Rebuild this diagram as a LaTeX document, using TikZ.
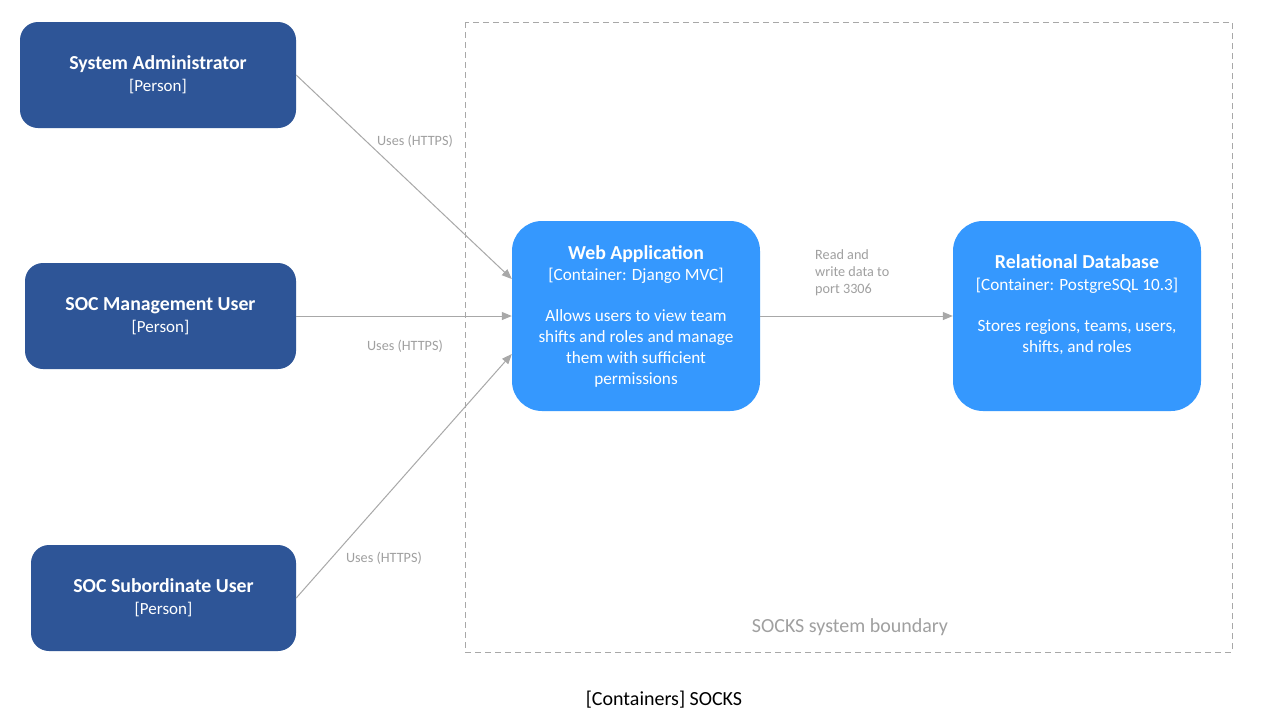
\documentclass[tikz,border=0pt]{standalone}
\usepackage{fontspec}
\setmainfont{Carlito}
\usetikzlibrary{arrows.meta,calc}
\definecolor{person}{HTML}{2E5597}
\definecolor{container}{HTML}{3598FE}
\definecolor{lineg}{HTML}{A8A8A8}
\definecolor{textg}{HTML}{A0A0A0}
\newcommand{\ttl}[1]{{\fontsize{19.8}{22}\selectfont\bfseries #1}}
\begin{document}
\begin{tikzpicture}[x=1pt,y=1pt,
  personbox/.style={fill=person,rounded corners=18pt,text=white,align=center,inner sep=0pt,
     minimum height=106pt,font=\fontsize{17}{22}\selectfont},
  contbox/.style={fill=container,rounded corners=30pt,text=white,align=center,inner sep=0pt,
     minimum width=248pt,minimum height=190pt,font=\fontsize{17.2}{20.8}\selectfont},
  conn/.style={draw=lineg,line width=1pt,-{Triangle[length=10pt,width=8pt]}},
  connlabel/.style={text=textg,font=\fontsize{14.2}{17}\selectfont,inner sep=0pt},
]
\useasboundingbox (0,0) rectangle (1282,-726);
\fill[white] (0,0) rectangle (1282,-726);
% boundary
\draw[draw=lineg,line width=0.8pt,dash pattern=on 6pt off 4pt] (465,-22) rectangle (1232,-652);
\node[text=textg,font=\fontsize{20}{24}\selectfont,inner sep=0pt] (blabel) at (850,-627) {SOCKS system boundary};
% persons
\node[personbox,minimum width=276pt] (admin) at (158,-75)
  {\ttl{System Administrator}\\[0pt]{[Person]}};
\node[personbox,minimum width=271pt] (mgmt) at (160.5,-316)
  {\ttl{SOC Management User}\\[0pt]{[Person]}};
\node[personbox,minimum width=265pt] (sub) at (163.5,-598)
  {\ttl{SOC Subordinate User}\\[0pt]{[Person]}};
% containers
\node[contbox] (web) at (636,-316)
  {\ttl{Web Application}\\[1pt]
   {[Container: Django MVC]}\\[20pt]
   Allows users to view team\\
   shifts and roles and manage\\
   them with sufficient\\
   permissions};
\node[contbox] (db) at (1077,-316)
  {\ttl{Relational Database}\\[1pt]
   {[Container: PostgreSQL 10.3]}\\[20pt]
   Stores regions, teams, users,\\
   shifts, and roles\\[4pt]\mbox{}};
% connectors
\draw[conn] (admin.east) -- ($(web.west)+(0,37)$);
\draw[conn] (mgmt.east) -- (web.west);
\draw[conn] (sub.east) -- ($(web.west)+(0,-38)$);
\draw[conn] (web.east) -- (db.west);
% labels
\node[connlabel] (lab1) at (415,-141) {Uses (HTTPS)};
\node[connlabel] (lab2) at (405,-346) {Uses (HTTPS)};
\node[connlabel] (lab3) at (384,-558) {Uses (HTTPS)};
\node[connlabel,align=left,anchor=west] (lab4) at (815,-273) {Read and\\write data to\\port 3306};
% caption
\node[font=\fontsize{20}{24}\selectfont,inner sep=0pt] (caption) at (664,-700) {[Containers] SOCKS};
\end{tikzpicture}
\end{document}
